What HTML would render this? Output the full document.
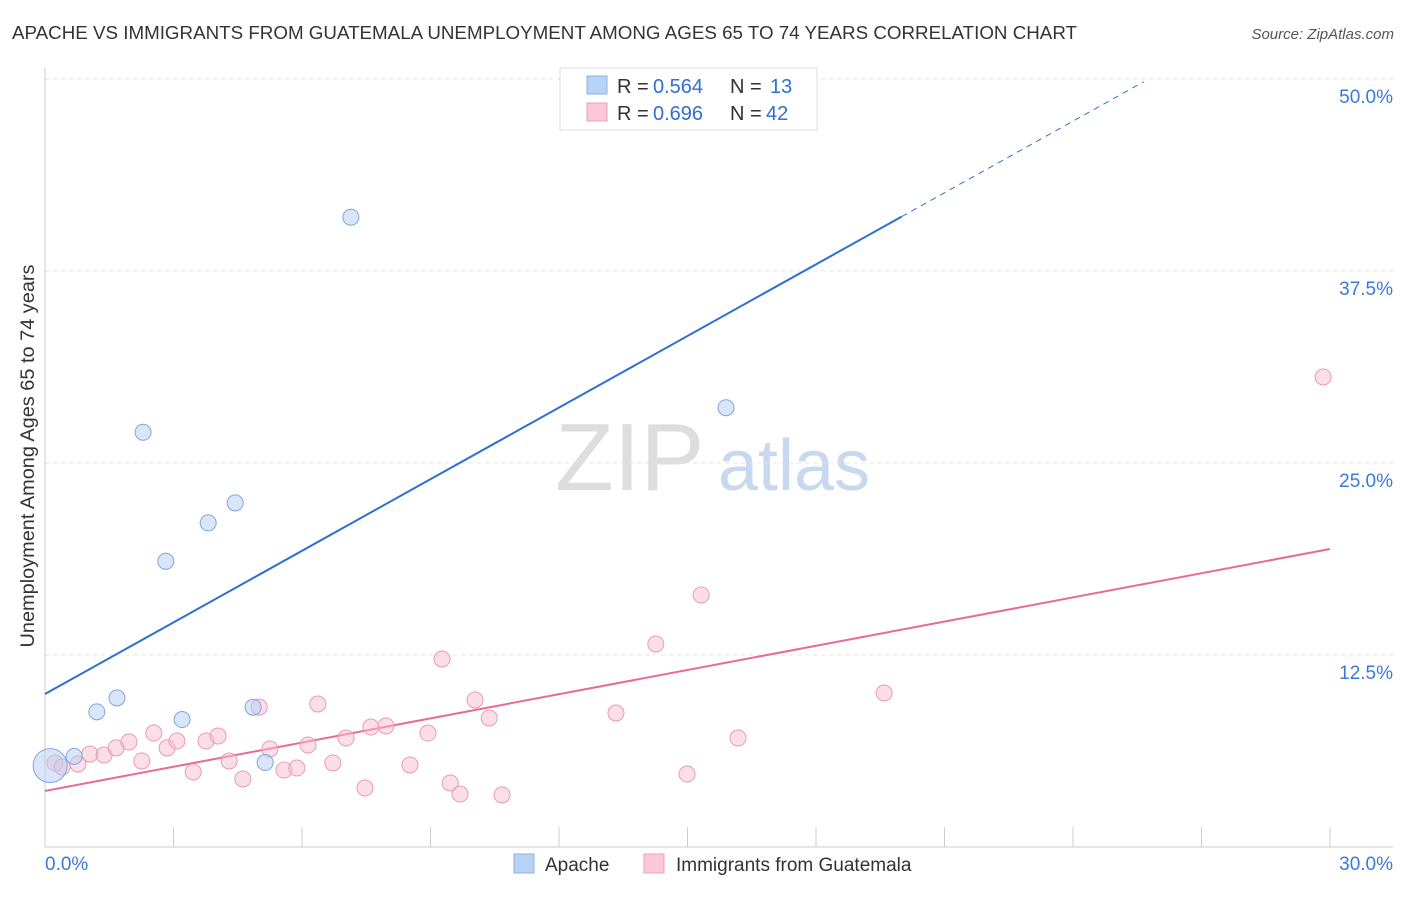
<!DOCTYPE html>
<html><head><meta charset="utf-8"><style>
body{margin:0;background:#fff;font-family:"Liberation Sans",sans-serif;}
svg text{font-family:"Liberation Sans",sans-serif;}
</style></head><body>
<svg id="chart" width="1406" height="892" viewBox="0 0 1406 892">
<text x="12" y="39" font-size="18" fill="#333" textLength="1065" lengthAdjust="spacingAndGlyphs">APACHE VS IMMIGRANTS FROM GUATEMALA UNEMPLOYMENT AMONG AGES 65 TO 74 YEARS CORRELATION CHART</text>
<text x="1394" y="39" font-size="15" fill="#555" text-anchor="end" font-style="italic">Source: ZipAtlas.com</text>
<text transform="translate(34,456) rotate(-90)" font-size="19" fill="#333" text-anchor="middle" textLength="383" lengthAdjust="spacingAndGlyphs">Unemployment Among Ages 65 to 74 years</text>
<g><text x="555" y="490" font-size="96" fill="#ddd" font-family="Liberation Serif,serif">ZIP</text><text x="718" y="490" font-size="72" fill="#c8d8ee">atlas</text></g>
<g id="grid"></g><g id="axes"></g><g id="lines"></g><g id="points"></g>
<g>
<rect x="560" y="68" width="257" height="62" fill="#fff" stroke="#ddd"/>
<rect x="587" y="76" width="20" height="18" fill="#b8d3f5" stroke="#8ab0e0"/>
<text x="617" y="93" font-size="20" fill="#333">R =</text><text x="653" y="93" font-size="20" fill="#2f6fd0">0.564</text>
<text x="730" y="93" font-size="20" fill="#333">N =</text><text x="770" y="93" font-size="20" fill="#2f6fd0">13</text>
<rect x="587" y="103" width="20" height="18" fill="#fbc9d8" stroke="#eea0b8"/>
<text x="617" y="120" font-size="20" fill="#333">R =</text><text x="653" y="120" font-size="20" fill="#2f6fd0">0.696</text>
<text x="730" y="120" font-size="20" fill="#333">N =</text><text x="766" y="120" font-size="20" fill="#2f6fd0">42</text>
</g>
<g>
<rect x="514" y="854" width="20" height="19" fill="#b8d3f5" stroke="#8ab0e0"/>
<text x="545" y="871" font-size="19" fill="#333">Apache</text>
<rect x="644" y="854" width="20" height="19" fill="#fbc9d8" stroke="#eea0b8"/>
<text x="676" y="871" font-size="19" fill="#333">Immigrants from Guatemala</text>
</g>
</svg>
<script>
const yTicks=[12.5,25,37.5,50];
const yTickLabels=["12.5%","25.0%","37.5%","50.0%"];
const apacheX=[0.12,0.68,1.21,1.68,2.29,2.82,3.2,3.81,4.44,4.86,5.14,7.14,15.9];
const apacheY=[5.3,5.9,8.8,9.7,27.0,18.6,8.3,21.1,22.4,9.1,5.5,41.0,28.6];
const guatX=[0.23,0.40,0.77,1.05,1.38,1.66,1.96,2.26,2.54,2.85,3.08,3.46,3.76,4.04,4.30,4.62,5.00,5.25,5.58,5.88,6.14,6.37,6.72,7.03,7.47,7.61,7.96,8.52,8.94,9.27,9.46,9.69,10.04,10.37,10.67,13.33,14.26,14.99,15.32,16.18,19.59,29.84];
const guatY=[5.47,5.21,5.40,6.05,5.99,6.45,6.84,5.60,7.42,6.45,6.90,4.88,6.90,7.23,5.60,4.43,9.11,6.38,5.01,5.14,6.64,9.31,5.47,7.10,3.84,7.81,7.88,5.34,7.42,12.24,4.17,3.45,9.57,8.40,3.39,8.72,13.22,4.75,16.41,7.10,10.03,30.60];
const apacheLine=[9.96,1.554];
const guatLine=[3.65,0.525];
const NS="http://www.w3.org/2000/svg";
const X=v=>45+v/30*1285, Y=v=>847-v/12.5*192;
function mk(p,t,a){const e=document.createElementNS(NS,t);for(const k in a)e.setAttribute(k,a[k]);document.getElementById(p).appendChild(e);return e;}
yTicks.forEach((t,i)=>{
 let l=mk('grid','line',{x1:45,x2:1393,y1:Y(t),y2:Y(t),stroke:'#e4e4e4','stroke-dasharray':'4 4'});
 
 
 let tx=mk('grid','text',{x:1393,y:Y(t)+24,'font-size':19,fill:'#3b78d8','text-anchor':'end'});tx.textContent=yTickLabels[i];
 
 
});
let ya=mk('axes','line',{x1:45,x2:45,y1:68,y2:847,stroke:'#ccc'});


let xa=mk('axes','line',{x1:45,x2:1393,y1:847,y2:847,stroke:'#ccc'});


for(let i=0;i<=10;i++){let t=mk('axes','line',{x1:X(i*3),x2:X(i*3),y1:827,y2:847,stroke:'#ccc'});
 
 }
let x0=mk('axes','text',{x:45,y:870,'font-size':19,fill:'#3b78d8'});x0.textContent='0.0%';


let x1=mk('axes','text',{x:1393,y:870,'font-size':19,fill:'#3b78d8','text-anchor':'end'});x1.textContent='30.0%';


const f=(L,x)=>L[0]+L[1]*x;
let bl=mk('lines','line',{x1:X(0),y1:Y(f(apacheLine,0)),x2:X(20),y2:Y(f(apacheLine,20)),stroke:'#2f6fd0','stroke-width':2});


let bd=mk('lines','line',{x1:X(20),y1:Y(f(apacheLine,20)),x2:X(25.65),y2:Y(f(apacheLine,25.65)),stroke:'#2f6fd0','stroke-width':1,'stroke-dasharray':'6 5'});


let pl=mk('lines','line',{x1:X(0),y1:Y(f(guatLine,0)),x2:X(30),y2:Y(f(guatLine,30)),stroke:'#e8699a','stroke-width':2});


guatX.forEach((x,i)=>{let c=mk('points','circle',{cx:X(x),cy:Y(guatY[i]),r:8,fill:'rgba(250,190,210,0.5)',stroke:'#e99ab5','stroke-width':1});
 
 });
apacheX.forEach((x,i)=>{let c=mk('points','circle',{cx:X(x),cy:Y(apacheY[i]),r:i==0?17:8,fill:'rgba(180,205,245,0.5)',stroke:'#7ea6e0','stroke-width':1});
 
 });
</script>
</body></html>
